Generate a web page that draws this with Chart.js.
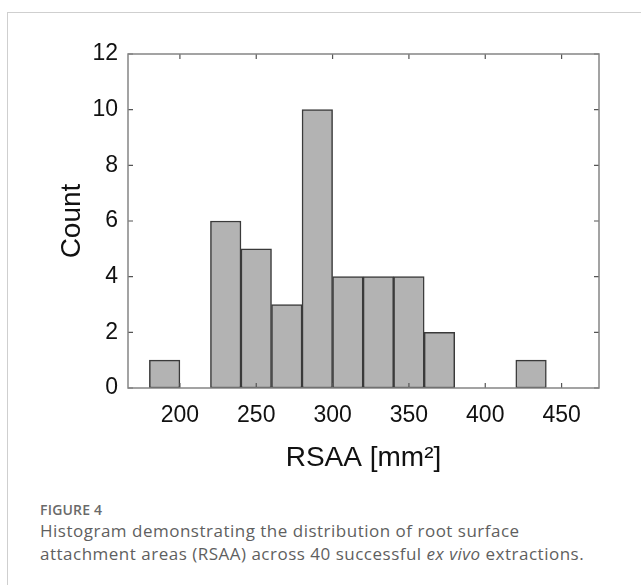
<!DOCTYPE html>
<html>
<head>
<meta charset="utf-8">
<script src="https://cdn.jsdelivr.net/npm/chart.js@4.4.1/dist/chart.umd.min.js"></script>
<style>
  html, body { margin: 0; padding: 0; background: #fff; }
  body { width: 641px; height: 585px; position: relative; overflow: hidden; }
  #card {
    position: absolute; left: 7px; top: 12px; width: 700px; height: 620px;
    border-top: 1px solid #cfcfcf; border-left: 1px solid #cfcfcf;
  }
  #wrap { position: absolute; left: 0; top: 0; width: 641px; height: 480px; }
  #caption {
    position: absolute; left: 40px; top: 502px; width: 600px;
    font-family: "Open Sans", sans-serif; color: #5f5f5f;
  }
  #caption .fig { font-size: 14px; font-weight: 600; color: #6a6a6a; line-height: 16px; letter-spacing: 0.2px; }
  #caption .txt { font-size: 17px; line-height: 23px; letter-spacing: 0.5px; margin-top: 1px; }
</style>
</head>
<body>
<div id="card"></div>
<div id="wrap"><canvas id="chart" width="641" height="480"></canvas></div>
<div id="caption">
  <div class="fig">FIGURE 4</div>
  <div class="txt">Histogram demonstrating the distribution of root surface<br>attachment areas (RSAA) across 40 successful <i>ex vivo</i> extractions.</div>
</div>
<script>
// histogram bins (left edges, width 20) and counts
const binEdges = [180, 200, 220, 240, 260, 280, 300, 320, 340, 360, 380, 400, 420, 440];
const binWidth = 20;
const counts = [1, 0, 6, 5, 3, 10, 4, 4, 4, 2, 0, 0, 1, 0];
const xTicks = [200, 250, 300, 350, 400, 450];
const yTicks = [0, 2, 4, 6, 8, 10, 12];

const axisFont = { family: 'Liberation Sans, Arial, sans-serif', size: 23 };
const titleFont = { family: 'Liberation Sans, Arial, sans-serif', size: 28 };

// matlab style box with inward ticks
const boxPlugin = {
  id: 'box',
  afterDraw(chart) {
    const { ctx, chartArea: a, scales } = chart;
    ctx.save();
    ctx.strokeStyle = '#555';
    ctx.lineWidth = 1.2;
    const len = 5;
    xTicks.forEach((v) => {
      const x = scales.x.getPixelForValue(v);
      ctx.beginPath();
      ctx.moveTo(x, a.bottom); ctx.lineTo(x, a.bottom - len);
      ctx.moveTo(x, a.top); ctx.lineTo(x, a.top + len);
      ctx.stroke();
    });
    yTicks.forEach((v) => {
      const y = scales.y.getPixelForValue(v);
      ctx.beginPath();
      ctx.moveTo(a.left, y); ctx.lineTo(a.left + len, y);
      ctx.moveTo(a.right, y); ctx.lineTo(a.right - len, y);
      ctx.stroke();
    });
    ctx.strokeStyle = '#858585';
    ctx.lineWidth = 1.5;
    ctx.strokeRect(a.left, a.top, a.right - a.left, a.bottom - a.top);
    ctx.restore();
  },
};

new Chart(document.getElementById('chart'), {
  type: 'bar',
  data: {
    datasets: [{
      data: binEdges.map((e, i) => ({ x: e + binWidth / 2, y: counts[i] })),
      backgroundColor: '#b3b3b3',
      borderColor: '#3a3a3a',
      borderWidth: 1.5,
      borderSkipped: false,
      barPercentage: 1,
      categoryPercentage: 1,
    }],
  },
  options: {
    responsive: false,
    animation: false,
    layout: { padding: { left: 0, top: 54, right: 42, bottom: 0 } },
    plugins: { legend: { display: false }, tooltip: { enabled: false } },
    scales: {
      x: {
        type: 'linear',
        min: 166,
        max: 474.5,
        offset: false,
        grid: { display: false, drawTicks: false, offset: false },
        border: { display: false },
        afterBuildTicks: (s) => { s.ticks = xTicks.map((v) => ({ value: v })); },
        afterFit: (s) => { s.height = 92; },
        ticks: { color: '#111', font: axisFont, padding: 14, maxRotation: 0 },
        title: { display: true, text: 'RSAA [mm²]', color: '#111', font: titleFont, padding: { top: 0, bottom: 5 } },
      },
      y: {
        min: 0,
        max: 12,
        grid: { display: false, drawTicks: false },
        border: { display: false },
        afterBuildTicks: (s) => { s.ticks = yTicks.map((v) => ({ value: v })); },
        afterFit: (s) => { s.width = 128; },
        ticks: { color: '#111', font: axisFont, padding: 10 },
        title: { display: true, text: 'Count', color: '#111', font: titleFont, padding: { top: 55, bottom: 0 } },
      },
    },
  },
  plugins: [boxPlugin],
});
</script>
</body>
</html>
